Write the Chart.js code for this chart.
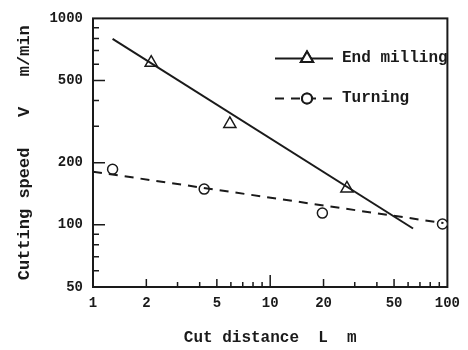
<!DOCTYPE html>
<html>
<head>
<meta charset="utf-8">
<script src="https://cdn.jsdelivr.net/npm/chart.js@4.4.0/dist/chart.umd.min.js"></script>
<style>
    html, body { margin: 0; padding: 0; background: #fff; }
    #wrap { width: 468px; height: 350px; }
</style>
</head>
<body>
<div id="wrap"><canvas id="chart"></canvas></div>
<script>
// tick values
const xTicks = [1, 2, 5, 10, 20, 50, 100];
const yTicks = [50, 100, 200, 500, 1000];
const xMinor = [3, 4, 6, 7, 8, 9, 30, 40, 60, 70, 80, 90];
const yMinor = [60, 70, 80, 90, 300, 400, 600, 700, 800, 900];

// End milling: measured points + fitted line
const millingL = [2.13, 5.92, 27.1];
const millingV = [610, 308, 150];
const millingFitL = [1.29, 64];
const millingFitV = [795, 96];

// Turning: measured points + fitted line
const turningL = [1.29, 4.24, 19.7, 93.8];
const turningV = [186, 149, 114, 101];
const turningFitL = [1, 95];
const turningFitV = [181, 102];

const ink = '#1a1a1a';
const fontFam = '"Liberation Mono", "DejaVu Sans Mono", monospace';

function pts(xs, ys) {
    return xs.map((v, i) => ({ x: v, y: ys[i] }));
}

// frame with inward ticks
const frameTicks = {
    id: 'frameTicks',
    beforeDatasetsDraw(chart) {
        const { ctx, chartArea: a, scales: { x, y } } = chart;
        ctx.save();
        ctx.strokeStyle = ink;
        ctx.lineWidth = 2;
        ctx.strokeRect(a.left, a.top, a.right - a.left, a.bottom - a.top);
        ctx.lineWidth = 1.5;
        ctx.beginPath();
        xTicks.concat(xMinor).forEach(v => {
            if (v <= 1 || v >= 100) return;
            const px = x.getPixelForValue(v);
            const len = v === 10 ? 12 : (xTicks.includes(v) ? 8 : 5);
            ctx.moveTo(px, a.bottom);
            ctx.lineTo(px, a.bottom - len);
        });
        yTicks.concat(yMinor).forEach(v => {
            if (v <= 50 || v >= 1000) return;
            const py = y.getPixelForValue(v);
            const len = yTicks.includes(v) ? 12 : 6;
            ctx.moveTo(a.left, py);
            ctx.lineTo(a.left + len, py);
        });
        ctx.stroke();
        ctx.restore();
    }
};

// legend: line + marker + label
const sampleLegend = {
    id: 'sampleLegend',
    afterDraw(chart) {
        const { ctx, chartArea: a } = chart;
        const rows = [
            { ds: chart.data.datasets[1], line: chart.data.datasets[0], y: a.top + 40 },
            { ds: chart.data.datasets[3], line: chart.data.datasets[2], y: a.top + 80 }
        ];
        const x0 = a.left + 182, x1 = a.left + 240, xm = a.left + 214;
        ctx.save();
        rows.forEach(r => {
            ctx.strokeStyle = ink;
            ctx.lineWidth = 2;
            ctx.setLineDash(r.line.borderDash || []);
            ctx.beginPath();
            ctx.moveTo(x0, r.y);
            ctx.lineTo(x1, r.y);
            ctx.stroke();
            ctx.setLineDash([]);
            ctx.fillStyle = '#fff';
            Chart.helpers.drawPoint(ctx, {
                pointStyle: r.ds.pointStyle, radius: r.ds.pointRadius,
                borderWidth: 1.5, rotation: 0
            }, xm, r.y);
            ctx.fill();
            ctx.stroke();
            ctx.fillStyle = ink;
            ctx.font = 'bold 16px ' + fontFam;
            ctx.textBaseline = 'middle';
            ctx.fillText(r.ds.label, x1 + 9, r.y);
        });
        ctx.restore();
    }
};

new Chart(document.getElementById('chart'), {
    type: 'scatter',
    data: {
        datasets: [
            {
                label: 'End milling fit',
                data: pts(millingFitL, millingFitV),
                showLine: true, pointRadius: 0,
                borderColor: ink, borderWidth: 2
            },
            {
                label: 'End milling',
                data: pts(millingL, millingV),
                showLine: false, pointStyle: 'triangle', pointRadius: 7,
                borderColor: ink, backgroundColor: '#fff', pointBorderWidth: 1.5
            },
            {
                label: 'Turning fit',
                data: pts(turningFitL, turningFitV),
                showLine: true, pointRadius: 0,
                borderColor: ink, borderWidth: 2, borderDash: [9, 7]
            },
            {
                label: 'Turning',
                data: pts(turningL, turningV),
                showLine: false, pointStyle: 'circle', pointRadius: 5,
                borderColor: ink, backgroundColor: '#fff', pointBorderWidth: 1.5
            }
        ]
    },
    options: {
        responsive: true,
        maintainAspectRatio: false,
        animation: false,
        layout: { padding: { top: 15, right: 15, left: 0, bottom: 0 } },
        plugins: {
            legend: { display: false },
            tooltip: { enabled: false }
        },
        scales: {
            x: {
                type: 'logarithmic',
                min: 1, max: 100,
                afterBuildTicks: s => { s.ticks = xTicks.map(v => ({ value: v })); },
                afterFit: s => { s.height = 63; },
                grid: { display: false, drawTicks: false },
                border: { display: false },
                ticks: {
                    autoSkip: false, maxRotation: 0, padding: 8,
                    color: ink, font: { family: fontFam, size: 14, weight: 'bold' },
                    callback: v => String(v)
                },
                title: {
                    display: true, text: 'Cut distance  L  m',
                    color: ink, padding: { top: 0, bottom: 2 },
                    font: { family: fontFam, size: 16, weight: 'bold', lineHeight: 1.2 }
                }
            },
            y: {
                type: 'logarithmic',
                min: 50, max: 1000,
                afterBuildTicks: s => { s.ticks = yTicks.map(v => ({ value: v })); },
                afterFit: s => { s.width = 93; },
                grid: { display: false, drawTicks: false },
                border: { display: false },
                ticks: {
                    autoSkip: false, padding: 10,
                    color: ink, font: { family: fontFam, size: 14, weight: 'bold' },
                    callback: v => String(v)
                },
                title: {
                    display: true, text: 'Cutting speed   V   m/min',
                    color: ink, padding: { top: 15, bottom: 0 },
                    font: { family: fontFam, size: 17, weight: 'bold', lineHeight: 1.2 }
                }
            }
        }
    },
    plugins: [frameTicks, sampleLegend]
});
</script>
</body>
</html>
